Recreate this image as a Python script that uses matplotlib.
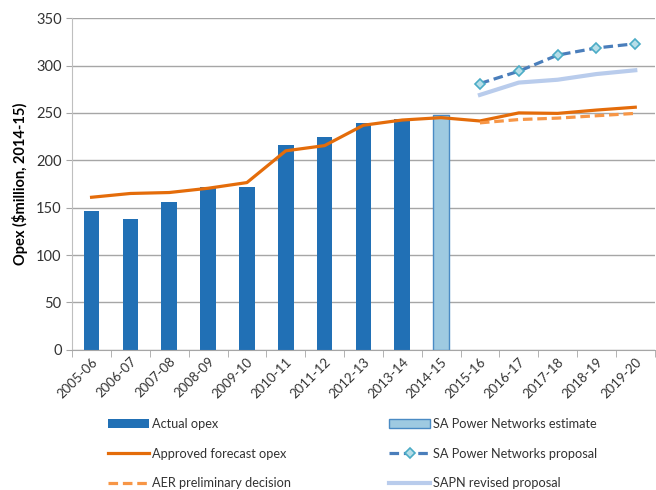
import matplotlib
matplotlib.use("Agg")
import matplotlib.pyplot as plt
import numpy as np

plt.rcParams['font.family'] = ['Lato', 'DejaVu Sans']

years = ["2005-06", "2006-07", "2007-08", "2008-09", "2009-10", "2010-11",
         "2011-12", "2012-13", "2013-14", "2014-15", "2015-16", "2016-17",
         "2017-18", "2018-19", "2019-20"]

actual_opex = [146.5, 138, 156, 172, 171.5, 216.5, 224.5, 239.5, 244]
sapn_estimate = [248]
approved = [161, 165, 166, 170.5, 176.5, 210, 215.5, 237, 242.5, 245,
            241.5, 250, 249.5, 253, 256]
aer_prelim = [239.5, 243, 244.5, 247, 249.5]
sapn_proposal = [281, 294, 311, 318.5, 323]
sapn_revised = [269, 282, 285, 291, 295]

x = np.arange(len(years))
fig = plt.figure(figsize=(6.56, 4.9), dpi=100)
ax = fig.add_axes([0.11, 0.286, 0.888, 0.677])

b1 = ax.bar(x[:9], actual_opex, width=0.4, color="#2170B5", zorder=2)
b2 = ax.bar(x[9:10], sapn_estimate, width=0.4, color="#9ECAE1",
            edgecolor="#4A8BC4", linewidth=1, zorder=2)
l1, = ax.plot(x, approved, color="#E46C0A", lw=2.3, zorder=3)
l2, = ax.plot(x[10:], aer_prelim, color="#F79646", lw=2.3, ls=(0, (3, 1.5)), zorder=3)
l3, = ax.plot(x[10:], sapn_proposal, color="#4A7EBB", lw=2.3, ls=(0, (3, 1.5)),
              marker="D", ms=5.5, mfc="#B7DEE8", mec="#4BACC6", mew=1.2, zorder=3)
l4, = ax.plot(x[10:], sapn_revised, color="#B9CCEC", lw=3, zorder=3)

ax.set_xlim(-0.5, 14.5)
ax.set_ylim(0, 350)
ax.set_yticks(range(0, 351, 50))
ax.yaxis.grid(True, color="#A6A6A6", lw=1, zorder=0)
ax.set_axisbelow(True)
for s in ["top", "right"]:
    ax.spines[s].set_visible(False)
ax.spines["left"].set_color("#BFBFBF")
ax.spines["bottom"].set_color("#A6A6A6")
ax.tick_params(axis="y", colors="#A6A6A6", labelcolor="#333333", labelsize=10.5, length=4)
ax.set_xticks(x)
ax.set_xticklabels(years, rotation=45, ha="right", rotation_mode="anchor", fontsize=9.5, color="#333333")
ax.tick_params(axis="x", length=0, pad=4)
ax.set_xticks(np.arange(-0.5, 15, 1), minor=True)
ax.tick_params(axis="x", which="minor", length=5, colors="#A6A6A6")
ax.set_ylabel("Opex ($million, 2014-15)", fontsize=10.5, fontweight="bold", labelpad=6)

leg_kw = dict(frameon=False, fontsize=9.2, handlelength=3.2, labelspacing=1.38,
              handletextpad=0.25, loc="upper left", labelcolor="#333333")
fig.legend([b1, l1, l2], ["Actual opex", "Approved forecast opex", "AER preliminary decision"],
           bbox_to_anchor=(0.147, 0.17), **leg_kw)
fig.legend([b2, l3, l4], ["SA Power Networks estimate", "SA Power Networks proposal", "SAPN revised proposal"],
           bbox_to_anchor=(0.576, 0.17), **leg_kw)

fig.savefig("out.png", dpi=100)
